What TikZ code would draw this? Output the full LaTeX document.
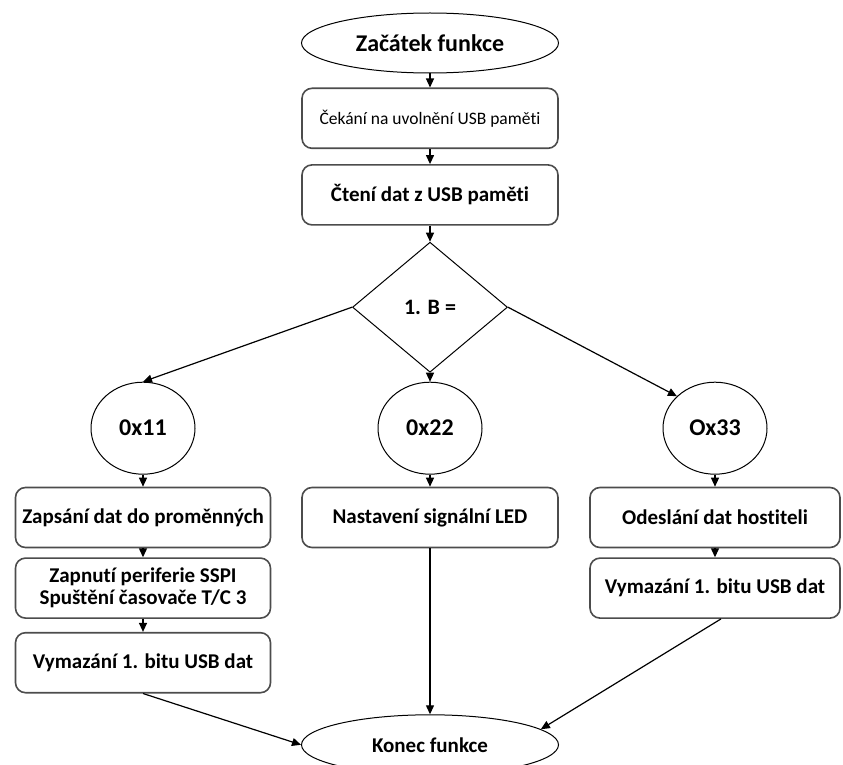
\documentclass[tikz,border=0pt]{standalone}
\usepackage{fontspec}
\setmainfont{Carlito}[Ligatures=NoCommon]
\usepackage{tikz}
\usetikzlibrary{shapes.geometric, positioning, arrows.meta}
\tikzset{
-, % plain lines unless an arrow is asked for
>={Triangle[length=9pt, width=8pt]}, % filled arrow heads
node distance=12pt, % gap between two nodes. Change if necessary.
every node/.style={font=\fontsize{21}{22}\selectfont\bfseries}, % text of every box
}
\tikzset{
  terminal/.style={ellipse, draw=black, line width=1pt, minimum width=257pt, minimum height=60pt, inner sep=0pt},
  process/.style={rectangle, rounded corners=10pt, draw=black!70, line width=1.6pt, minimum width=256pt, minimum height=60pt, inner sep=2pt, align=center},
  decision/.style={diamond, draw=black, line width=1pt, minimum width=155pt, minimum height=130pt, inner sep=0pt},
  value/.style={ellipse, draw=black, line width=1pt, minimum width=104pt, minimum height=92pt, inner sep=0pt, font=\fontsize{24}{28}\selectfont\bfseries},
  flow/.style={->, line width=1.2pt}
}

\begin{document}
\begin{tikzpicture}[x=1pt, y=-1pt]
      \useasboundingbox (0,0) rectangle (843,765);

      \node[terminal, font=\fontsize{24}{28}\selectfont\bfseries] (start) at (430,43) {Začátek funkce};
      \node[process, below=14pt of start, font=\fontsize{17.5}{20}\selectfont] (wait) {Čekání na uvolnění USB paměti};
      \node[process, below=15pt of wait] (read) {Čtení dat z USB paměti};
      \node[decision, below=16pt of read, font=\fontsize{22}{24}\selectfont\bfseries] (dec) {1. B =};
      \node[value, below=9pt of dec] (c22) {0x22};
      \node[value, left=182pt of c22] (c11) {0x11};
      \node[value, right=180pt of c22] (c33) {Ox33};
      % left branch
      \node[process, below=12pt of c11, minimum width=255pt] (zap) {Zapsání dat do proměnných};
      \node[process, below=9pt of zap, minimum width=255pt] (ssp) {Zapnutí periferie SSPI\\Spuštění časovače T/C 3};
      \node[process, below=13pt of ssp, minimum width=255pt] (vym1) {Vymazání 1. bitu USB dat};
      % middle branch
      \node[process, below=12pt of c22] (led) {Nastavení signální LED};
      % right branch
      \node[process, below=12pt of c33, minimum width=250pt] (odes) {Odeslání dat hostiteli};
      \node[process, below=9pt of odes, minimum width=250pt] (vym2) {Vymazání 1. bitu USB dat};

      \node[terminal, below=166pt of led] (end) {Konec funkce};
      \coordinate (vym2out) at ([xshift=6pt]vym2.south);

      \path[flow] (start) edge (wait)
      (wait) edge (read)
      (read) edge (dec)
      (dec.west) edge (c11.north)
      (dec) edge (c22)
      (dec.east) edge (c33.140)
      (c11) edge (zap)
      (zap) edge (ssp)
      (ssp) edge (vym1)
      (c22) edge (led)
      (c33) edge (odes)
      (odes) edge (vym2)
      (vym1.south) edge (end.west)
      (led) edge (end)
      (vym2out) edge (end.8);
    \end{tikzpicture}
\end{document}
